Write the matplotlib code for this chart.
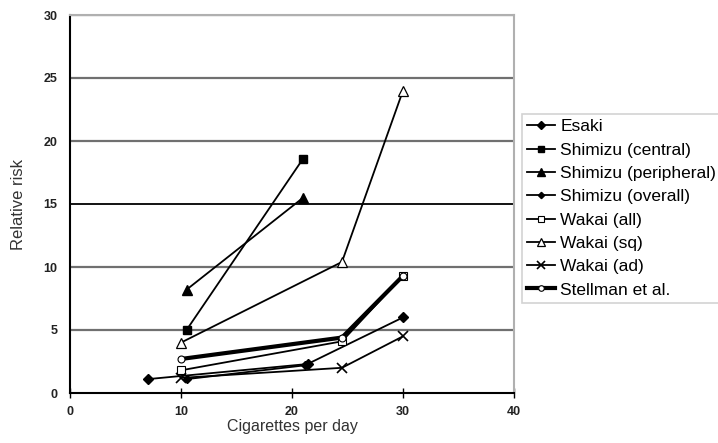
import matplotlib.pyplot as plt
import numpy as np

plt.rcParams['font.family'] = ['Liberation Sans', 'DejaVu Sans']

# data
esaki_x = [7, 21.4, 30]
esaki_y = [1.1, 2.3, 6.0]
shim_c_x = [10.5, 21]
shim_c_y = [5.0, 18.6]
shim_p_x = [10.5, 21]
shim_p_y = [8.2, 15.5]
shim_o_x = [10.5, 21.2]
shim_o_y = [1.1, 2.2]
wakai_x = [10, 24.5, 30]
wakai_all_y = [1.8, 4.1, 9.3]
wakai_sq_y = [4.0, 10.4, 24.0]
wakai_ad_y = [1.2, 2.0, 4.5]
stell_x = [10, 24.5, 30]
stell_y = [2.7, 4.4, 9.3]

fig = plt.figure(figsize=(7.18, 4.43), dpi=100)
ax = fig.add_axes([70/718, 1-393/443, 444/718, 378/443])

k = dict(color='black', lw=1.3)
ax.plot(esaki_x, esaki_y, marker='D', ms=5, label='Esaki', **k)
ax.plot(shim_c_x, shim_c_y, marker='s', ms=6, label='Shimizu (central)', **k)
ax.plot(shim_p_x, shim_p_y, marker='^', ms=6.5, label='Shimizu (peripheral)', **k)
ax.plot(shim_o_x, shim_o_y, marker='D', ms=4, label='Shimizu (overall)', **k)
ax.plot(wakai_x, wakai_all_y, marker='s', ms=6, mfc='white', mew=0.8,
        label='Wakai (all)', **k)
ax.plot(wakai_x, wakai_sq_y, marker='^', ms=6.5, mfc='white', mew=0.9,
        label='Wakai (sq)', **k)
ax.plot(wakai_x, wakai_ad_y, marker='x', ms=7, mew=1.2, label='Wakai (ad)', **k)
ax.plot(stell_x, stell_y, marker='o', ms=5, mfc='white', mew=0.8, color='black',
        lw=3, label='Stellman et al.')

ax.set_xlim(0, 40)
ax.set_ylim(0, 30)
ax.set_xticks(np.arange(0, 41, 10))
ax.set_yticks(np.arange(0, 31, 5))
for y in range(5, 31, 5):
    ax.axhline(y, color='black' if y == 15 else '#707070', lw=1.6 if y != 15 else 1.3,
               zorder=0)

for s in ['top', 'right']:
    ax.spines[s].set_color('#b0b0b0')
    ax.spines[s].set_linewidth(1.5)
for s in ['left', 'bottom']:
    ax.spines[s].set_color('black')
    ax.spines[s].set_linewidth(1.5)

ax.tick_params(axis='x', direction='inout', length=7, width=1, pad=6,
               labelsize=9)
ax.tick_params(axis='y', length=0, pad=9, labelsize=9)
for t in ax.get_xticklabels() + ax.get_yticklabels():
    t.set_fontweight('bold')
    t.set_color('#222222')

ax.set_xlabel('Cigarettes per day', fontsize=11.5, color='#333333')
ax.set_ylabel('Relative risk', fontsize=12, color='#333333')
ax.xaxis.set_label_coords(0.5, -0.07)
ax.yaxis.set_label_coords(-0.1, 0.5)

leg = ax.legend(loc='upper left', bbox_to_anchor=(522/718, 1-114/443),
                bbox_transform=fig.transFigure, fontsize=12.5, frameon=True,
                fancybox=False, edgecolor='#c8c8c8', handlelength=1.6,
                handletextpad=0.3, borderpad=0.3, labelspacing=0.47,
                markerscale=0.8, borderaxespad=0)
leg.get_frame().set_linewidth(1.2)

fig.savefig('out.png', dpi=100)
